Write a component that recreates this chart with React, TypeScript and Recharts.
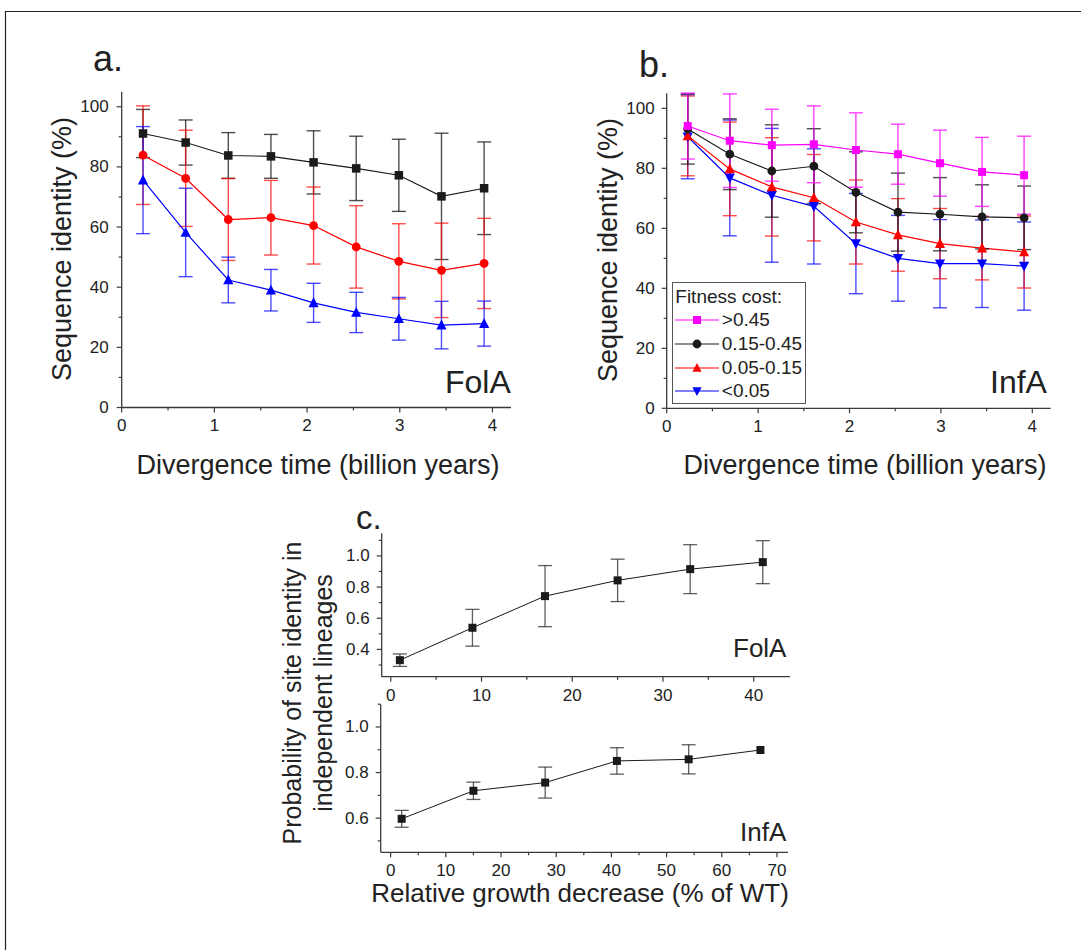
import React from 'react';
import { LineChart, Line, XAxis, YAxis, ErrorBar, Legend } from 'recharts';

// ---------------- data ----------------
const divergenceTime = [0.23, 0.69, 1.15, 1.61, 2.07, 2.53, 2.99, 3.45, 3.91];

// panel a (FolA)
const folaHigh = [91.1, 88.1, 83.8, 83.5, 81.5, 79.5, 77.2, 70.2, 72.9];
const folaHighErr = [8, 7.5, 7.6, 7.3, 10.5, 10.7, 12, 21, 15.4];
const folaMid = [83.9, 76.2, 62.5, 63.1, 60.5, 53.4, 48.6, 45.6, 47.9];
const folaMidErr = [16.4, 16, 13.6, 12.4, 12.8, 13.7, 12.5, 15.7, 15];
const folaLow = [75.6, 58.2, 42.4, 39, 34.8, 31.6, 29.5, 27.4, 27.9];
const folaLowErr = [17.8, 14.7, 7.6, 6.9, 6.5, 6.7, 7.1, 7.9, 7.5];

// panel b (InfA)
const infaVeryHigh = [94.1, 89.2, 87.7, 88, 86.1, 84.7, 81.7, 78.8, 77.7];
const infaVeryHighErr = [11, 15.6, 12, 12.8, 12.4, 10, 11, 11.5, 13];
const infaHigh = [93.1, 84.7, 79.1, 80.7, 72, 65.4, 64.7, 63.8, 63.5];
const infaHighErr = [11.7, 11.8, 15.4, 12.5, 13.5, 13, 12.2, 10.7, 10.6];
const infaMid = [90.8, 79.8, 73.8, 70.2, 62.1, 57.8, 54.9, 53.4, 52.1];
const infaMidErr = [13.3, 15.6, 16.4, 14.4, 14, 12.1, 11.7, 10.6, 12];
const infaLow = [90.5, 76.8, 71, 67.3, 54.9, 50, 48.2, 48.2, 47.4];
const infaLowErr = [14, 19.3, 22.3, 19.2, 16.7, 14.3, 14.7, 14.6, 14.7];

const fitnessLabels = ['>0.45', '0.15-0.45', '0.05-0.15', '<0.05'];

// panel c
const folaGrowth = [1, 9, 17, 25, 33, 41];
const folaProb = [0.331, 0.539, 0.742, 0.843, 0.915, 0.96];
const folaProbErr = [0.04, 0.118, 0.196, 0.136, 0.157, 0.138];
const infaGrowth = [2, 15, 28, 41, 54, 67];
const infaProb = [0.597, 0.72, 0.756, 0.851, 0.858, 0.899];
const infaProbErr = [0.037, 0.038, 0.068, 0.058, 0.064, 0];

// ticks
const divTicks = [0, 0.5, 1, 1.5, 2, 2.5, 3, 3.5, 4];
const divMajor = [0, 1, 2, 3, 4];
const identityTicks = [0, 10, 20, 30, 40, 50, 60, 70, 80, 90, 100];
const identityMajor = [0, 20, 40, 60, 80, 100];
const folaGrowthTicks = [0, 5, 10, 15, 20, 25, 30, 35, 40];
const folaGrowthMajor = [0, 10, 20, 30, 40];
const infaGrowthTicks = [0, 5, 10, 15, 20, 25, 30, 35, 40, 45, 50, 55, 60, 65, 70];
const infaGrowthMajor = [0, 10, 20, 30, 40, 50, 60, 70];
const probTicksTop = [0.3, 0.4, 0.5, 0.6, 0.7, 0.8, 0.9, 1.0, 1.1];
const probMajorTop = [0.4, 0.6, 0.8, 1.0];
const probTicksBottom = [0.5, 0.6, 0.7, 0.8, 0.9, 1.0, 1.1];
const probMajorBottom = [0.6, 0.8, 1.0];

// ---------------- styles ----------------
const FONT = '"Liberation Sans", Arial, Helvetica, sans-serif';
const AXIS = '#3a3a3a';
const TEXT = '#222';
const BLACK = '#1a1a1a';
const RED = '#ff0000';
const BLUE = '#0000ff';
const MAGENTA = '#ff00ff';

const rowsA = divergenceTime.map((t, i) => ({
  t,
  hi: folaHigh[i], hiErr: folaHighErr[i],
  mid: folaMid[i], midErr: folaMidErr[i],
  lo: folaLow[i], loErr: folaLowErr[i],
}));
const rowsB = divergenceTime.map((t, i) => ({
  t,
  vh: infaVeryHigh[i], vhErr: infaVeryHighErr[i],
  hi: infaHigh[i], hiErr: infaHighErr[i],
  mid: infaMid[i], midErr: infaMidErr[i],
  lo: infaLow[i], loErr: infaLowErr[i],
}));
const rowsC1 = folaGrowth.map((g, i) => ({ g, p: folaProb[i], e: folaProbErr[i] }));
const rowsC2 = infaGrowth.map((g, i) => ({ g, p: infaProb[i], e: infaProbErr[i] }));

type Shape = 'square' | 'circle' | 'up' | 'down';

function Marker({ shape, cx, cy, color, size = 8 }: { shape: Shape; cx: number; cy: number; color: string; size?: number }) {
  const h = size / 2;
  if (cx == null || cy == null) return <g />;
  if (shape === 'square') return <rect x={cx - h} y={cy - h} width={size} height={size} fill={color} />;
  if (shape === 'circle') return <circle cx={cx} cy={cy} r={h + 0.4} fill={color} />;
  if (shape === 'up')
    return <polygon points={`${cx},${cy - h - 1} ${cx - h - 0.6},${cy + h - 0.2} ${cx + h + 0.6},${cy + h - 0.2}`} fill={color} />;
  return <polygon points={`${cx},${cy + h + 1} ${cx - h - 0.6},${cy - h + 0.2} ${cx + h + 0.6},${cy - h + 0.2}`} fill={color} />;
}

const dotFn = (shape: Shape, color: string, size = 8) => (p: any) => (
  <Marker key={`m-${p.index}`} shape={shape} cx={p.cx} cy={p.cy} color={color} size={size} />
);

const near = (a: number, b: number) => Math.abs(a - b) < 1e-6;

const xTick = (majors: number[], fmt: (v: number) => string, offset: number, fontSize: number) => (p: any) => {
  const { x, y, payload } = p;
  const v = Number(payload.value);
  const isMajor = majors.some((m) => near(m, v));
  return (
    <g>
      <line x1={x} x2={x} y1={y} y2={y + (isMajor ? 5 : 3)} stroke={AXIS} strokeWidth={1.2} />
      {isMajor && (
        <text x={x} y={y + offset} textAnchor="middle" dominantBaseline="central" fontSize={fontSize} fill={TEXT} fontFamily={FONT}>
          {fmt(v)}
        </text>
      )}
    </g>
  );
};

const yTick = (majors: number[], fmt: (v: number) => string, offset: number, fontSize: number) => (p: any) => {
  const { x, y, payload } = p;
  const v = Number(payload.value);
  const isMajor = majors.some((m) => near(m, v));
  return (
    <g>
      <line x1={x - (isMajor ? 5 : 3)} x2={x} y1={y} y2={y} stroke={AXIS} strokeWidth={1.2} />
      {isMajor && (
        <text x={x - offset} y={y} textAnchor="end" dominantBaseline="central" fontSize={fontSize} fill={TEXT} fontFamily={FONT}>
          {fmt(v)}
        </text>
      )}
    </g>
  );
};

const intFmt = (v: number) => String(Math.round(v));
const probFmt = (v: number) => v.toFixed(1);

const axisLine = { stroke: AXIS, strokeWidth: 1.3 };

const legendItems: { label: string; color: string; shape: Shape }[] = [
  { label: fitnessLabels[0], color: MAGENTA, shape: 'square' },
  { label: fitnessLabels[1], color: BLACK, shape: 'circle' },
  { label: fitnessLabels[2], color: RED, shape: 'up' },
  { label: fitnessLabels[3], color: BLUE, shape: 'down' },
];

const renderLegend = () => (
  <div
    style={{
      position: 'relative',
      width: 134,
      height: 122,
      boxSizing: 'border-box',
      border: '1.3px solid #555',
      background: '#fff',
      fontFamily: FONT,
      color: TEXT,
      fontSize: 19,
    }}
  >
    <div style={{ position: 'absolute', left: 2, top: 3.5, lineHeight: '20px', whiteSpace: 'nowrap' }}>Fitness cost:</div>
    {legendItems.map((it, i) => (
      <div
        key={i}
        style={{ position: 'absolute', left: 1.5, top: 26.5 + i * 23.9, height: 20, display: 'flex', alignItems: 'center', whiteSpace: 'nowrap' }}
      >
        <svg width={44} height={20} style={{ display: 'block' }}>
          <line x1={0} x2={44} y1={10} y2={10} stroke={it.color} strokeWidth={1.2} />
          <Marker shape={it.shape} cx={22} cy={10} color={it.color} size={8} />
        </svg>
        <span style={{ marginLeft: 3, lineHeight: '20px' }}>{it.label}</span>
      </div>
    ))}
  </div>
);

const errStroke = {
  black: 'rgba(20,20,20,0.75)',
  red: 'rgba(255,0,0,0.7)',
  blue: 'rgba(0,0,255,0.7)',
  magenta: 'rgba(255,0,255,0.75)',
};

function PanelA() {
  return (
    <div style={{ position: 'absolute', left: 0, top: 0 }}>
      <LineChart width={540} height={490} data={rowsA} margin={{ top: 91.7, right: 29, bottom: 52.5, left: 61.7 }}>
        <XAxis dataKey="t" type="number" domain={[0, 4.2]} allowDataOverflow ticks={divTicks} interval={0} tickSize={0} tickMargin={0} tickLine={false} axisLine={axisLine} height={30} tick={xTick(divMajor, intFmt, 18, 17)} />
        <YAxis type="number" domain={[0, 105]} allowDataOverflow ticks={identityTicks} interval={0} tickSize={0} tickMargin={0} tickLine={false} axisLine={axisLine} width={60} tick={yTick(identityMajor, intFmt, 13, 17)} />
        <Line dataKey="hi" stroke={BLACK} strokeWidth={1.1} isAnimationActive={false} dot={dotFn('square', BLACK, 8.5)} activeDot={false}>
          <ErrorBar dataKey="hiErr" width={7} stroke={errStroke.black} strokeWidth={1.4} direction="y" />
        </Line>
        <Line dataKey="mid" stroke={RED} strokeWidth={1.2} isAnimationActive={false} dot={dotFn('circle', RED)} activeDot={false}>
          <ErrorBar dataKey="midErr" width={7} stroke={errStroke.red} strokeWidth={1.4} direction="y" />
        </Line>
        <Line dataKey="lo" stroke={BLUE} strokeWidth={1.2} isAnimationActive={false} dot={dotFn('up', BLUE, 9)} activeDot={false}>
          <ErrorBar dataKey="loErr" width={7} stroke={errStroke.blue} strokeWidth={1.4} direction="y" />
        </Line>
      </LineChart>
    </div>
  );
}

function PanelB() {
  return (
    <div style={{ position: 'absolute', left: 540, top: 0 }}>
      <LineChart width={541} height={490} data={rowsB} margin={{ top: 93.3, right: 30.4, bottom: 51.7, left: 66.7 }}>
        <XAxis dataKey="t" type="number" domain={[0, 4.2]} allowDataOverflow ticks={divTicks} interval={0} tickSize={0} tickMargin={0} tickLine={false} axisLine={axisLine} height={30} tick={xTick(divMajor, intFmt, 18, 17)} />
        <YAxis type="number" domain={[0, 105]} allowDataOverflow ticks={identityTicks} interval={0} tickSize={0} tickMargin={0} tickLine={false} axisLine={axisLine} width={60} tick={yTick(identityMajor, intFmt, 12, 17)} />
        <Line dataKey="lo" name={fitnessLabels[3]} stroke={BLUE} strokeWidth={1.2} isAnimationActive={false} dot={dotFn('down', BLUE, 9)} activeDot={false}>
          <ErrorBar dataKey="loErr" width={7} stroke={errStroke.blue} strokeWidth={1.4} direction="y" />
        </Line>
        <Line dataKey="mid" name={fitnessLabels[2]} stroke={RED} strokeWidth={1.2} isAnimationActive={false} dot={dotFn('up', RED, 9)} activeDot={false}>
          <ErrorBar dataKey="midErr" width={7} stroke={errStroke.red} strokeWidth={1.4} direction="y" />
        </Line>
        <Line dataKey="hi" name={fitnessLabels[1]} stroke={BLACK} strokeWidth={1.1} isAnimationActive={false} dot={dotFn('circle', BLACK)} activeDot={false}>
          <ErrorBar dataKey="hiErr" width={7} stroke={errStroke.black} strokeWidth={1.4} direction="y" />
        </Line>
        <Line dataKey="vh" name={fitnessLabels[0]} stroke={MAGENTA} strokeWidth={1.2} isAnimationActive={false} dot={dotFn('square', MAGENTA)} activeDot={false}>
          <ErrorBar dataKey="vhErr" width={7} stroke={errStroke.magenta} strokeWidth={1.4} direction="y" />
        </Line>
        <Legend layout="vertical" align="center" verticalAlign="middle" wrapperStyle={{ left: 132.3, top: 282.3, width: 134, height: 122 }} content={renderLegend} />
      </LineChart>
    </div>
  );
}

function PanelCBottom() {
  return (
    <div style={{ position: 'absolute', left: 0, top: 703 }}>
      <LineChart width={810} height={187} data={rowsC2} margin={{ top: 1.2, right: 22, bottom: 12.7, left: 330.7 }}>
        <XAxis dataKey="g" type="number" domain={[-1.8, 72]} allowDataOverflow ticks={infaGrowthTicks} interval={0} tickSize={0} tickMargin={0} tickLine={false} axisLine={axisLine} height={25} tick={xTick(infaGrowthMajor, intFmt, 18, 17)} />
        <YAxis type="number" domain={[0.45, 1.1]} allowDataOverflow ticks={probTicksBottom} interval={0} tickSize={0} tickMargin={0} tickLine={false} axisLine={axisLine} width={50} tick={yTick(probMajorBottom, probFmt, 12, 17)} />
        <Line dataKey="p" stroke={BLACK} strokeWidth={1} isAnimationActive={false} dot={dotFn('square', BLACK)} activeDot={false}>
          <ErrorBar dataKey="e" width={7} stroke="rgba(40,40,40,0.75)" strokeWidth={1.3} direction="y" />
        </Line>
      </LineChart>
    </div>
  );
}

function PanelCTop() {
  return (
    <div style={{ position: 'absolute', left: 0, top: 500 }}>
      <LineChart width={810} height={206} data={rowsC1} margin={{ top: 33.3, right: 20, bottom: 9.3, left: 331.7 }}>
        <XAxis dataKey="g" type="number" domain={[-1, 44]} allowDataOverflow ticks={folaGrowthTicks} interval={0} tickSize={0} tickMargin={0} tickLine={false} axisLine={axisLine} height={20} tick={xTick(folaGrowthMajor, intFmt, 19, 17)} />
        <YAxis type="number" domain={[0.225, 1.145]} allowDataOverflow ticks={probTicksTop} interval={0} tickSize={0} tickMargin={0} tickLine={false} axisLine={axisLine} width={50} tick={yTick(probMajorTop, probFmt, 12, 17)} />
        <Line dataKey="p" stroke={BLACK} strokeWidth={1} isAnimationActive={false} dot={dotFn('square', BLACK)} activeDot={false}>
          <ErrorBar dataKey="e" width={7} stroke="rgba(40,40,40,0.75)" strokeWidth={1.3} direction="y" />
        </Line>
      </LineChart>
    </div>
  );
}

function Annotations() {
  const t = { fontFamily: FONT, fill: TEXT } as const;
  return (
    <svg width={1081} height={950} style={{ position: 'absolute', left: 0, top: 0, pointerEvents: 'none' }}>
      <line x1={5} x2={1081} y1={11.5} y2={11.5} stroke="#222" strokeWidth={1.2} />
      <line x1={5.5} x2={5.5} y1={11} y2={950} stroke="#222" strokeWidth={1.2} />
      <text x={93} y={71} fontSize={36} {...t}>a.</text>
      <text x={639} y={77} fontSize={36} {...t}>b.</text>
      <text x={356} y={529} fontSize={33} {...t}>c.</text>

      <text x={445} y={393} fontSize={32} {...t}>FolA</text>
      <text x={990} y={393} fontSize={32} {...t}>InfA</text>
      <text x={733} y={657} fontSize={26} {...t}>FolA</text>
      <text x={740} y={841} fontSize={26} {...t}>InfA</text>

      <text x={62} y={249} fontSize={27} textAnchor="middle" dominantBaseline="central" transform="rotate(-90 62 249)" {...t}>Sequence identity (%)</text>
      <text x={608} y={250} fontSize={27} textAnchor="middle" dominantBaseline="central" transform="rotate(-90 608 250)" {...t}>Sequence identity (%)</text>
      <text x={318} y={465} fontSize={27} textAnchor="middle" dominantBaseline="central" {...t}>Divergence time (billion years)</text>
      <text x={865} y={465} fontSize={27} textAnchor="middle" dominantBaseline="central" {...t}>Divergence time (billion years)</text>

      <text x={292} y={693} fontSize={25} textAnchor="middle" dominantBaseline="central" transform="rotate(-90 292 693)" {...t}>Probability of site identity in</text>
      <text x={323} y={693} fontSize={25} textAnchor="middle" dominantBaseline="central" transform="rotate(-90 323 693)" {...t}>independent lineages</text>
      <text x={580} y={893} fontSize={26} textAnchor="middle" dominantBaseline="central" {...t}>Relative growth decrease (% of WT)</text>
    </svg>
  );
}

export default function App() {
  return (
    <div style={{ position: 'absolute', left: 0, top: 0, width: 1081, height: 950, background: '#fff', fontFamily: FONT, overflow: 'hidden' }}>
      <Annotations />
      <PanelA />
      <PanelB />
      <PanelCBottom />
      <PanelCTop />
    </div>
  );
}
